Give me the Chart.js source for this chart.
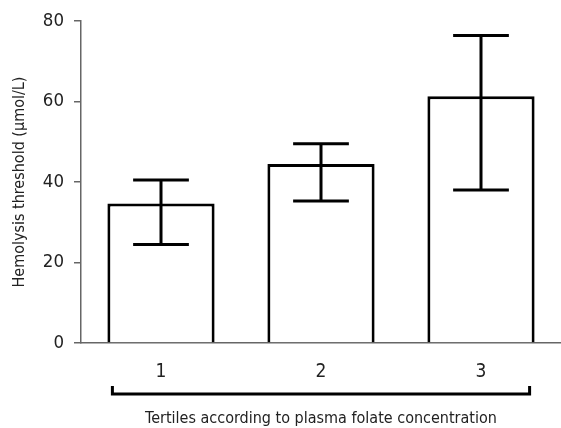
<!DOCTYPE html>
<html>
<head>
<meta charset="utf-8">
<script src="https://cdn.jsdelivr.net/npm/chart.js@4.4.1/dist/chart.umd.min.js"></script>
<style>
  html, body { margin: 0; padding: 0; background: #fff; }
  #wrap { width: 561px; height: 428px; }
</style>
</head>
<body>
<div id="wrap"><canvas id="barchart"></canvas></div>
<script>
// hemolysis threshold by folate tertile
var tertiles = ["1", "2", "3"];
var means = [34.7, 44.5, 61.3];
var errHigh = [40.5, 49.5, 76.4];
var errLow = [24.5, 35.3, 38.0];
var yTicks = [0, 20, 40, 60, 80];

var fontFam = "'DejaVu Sans Condensed', 'DejaVu Sans', sans-serif";

// whiskers on top of the bars
var errorBars = {
    id: "errorBars",
    afterDatasetsDraw(chart) {
        const ctx = chart.ctx;
        const y = chart.scales.y;
        const meta = chart.getDatasetMeta(0);
        ctx.save();
        ctx.strokeStyle = "#000";
        ctx.lineWidth = 3;
        meta.data.forEach(function(bar, i) {
            const half = bar.width * 0.26;
            const top = y.getPixelForValue(errHigh[i]);
            const bot = y.getPixelForValue(errLow[i]);
            ctx.beginPath();
            ctx.moveTo(bar.x, top);
            ctx.lineTo(bar.x, bot);
            ctx.moveTo(bar.x - half, top);
            ctx.lineTo(bar.x + half, top);
            ctx.moveTo(bar.x - half, bot);
            ctx.lineTo(bar.x + half, bot);
            ctx.stroke();
        });
        ctx.restore();
    }
};

// bracket under the tick labels
var bracket = {
    id: "bracket",
    afterDraw(chart) {
        const ctx = chart.ctx;
        const meta = chart.getDatasetMeta(0);
        const first = meta.data[0];
        const last = meta.data[meta.data.length - 1];
        const x1 = first.x - first.width / 2 + 5;
        const x2 = last.x + last.width / 2 - 5;
        const yb = chart.chartArea.bottom + 51;
        ctx.save();
        ctx.strokeStyle = "#000";
        ctx.lineWidth = 3;
        ctx.beginPath();
        ctx.moveTo(x1, yb - 8);
        ctx.lineTo(x1, yb);
        ctx.lineTo(x2, yb);
        ctx.lineTo(x2, yb - 8);
        ctx.stroke();
        ctx.restore();
    }
};

const ctx = document.getElementById("barchart").getContext("2d");

const config = {
    type: "bar",
    data: {
        labels: tertiles,
        datasets: [
            {
                data: means,
                backgroundColor: "#fff",
                borderColor: "#000",
                borderWidth: 3,
                borderSkipped: "start",
                categoryPercentage: 1,
                barPercentage: 0.67,
            },
        ],
    },
    options: {
        responsive: true,
        maintainAspectRatio: false,
        animation: false,
        layout: { padding: { top: 15, right: 0, left: 0, bottom: 0 } },
        scales: {
            x: {
                grid: { display: false },
                border: { display: true, color: "#666", width: 1.5 },
                ticks: {
                    padding: 10,
                    color: "#222",
                    font: { family: fontFam, size: 19 },
                },
                title: {
                    display: true,
                    text: "Tertiles according to plasma folate concentration",
                    color: "#222",
                    font: { family: fontFam, size: 16 },
                    padding: { top: 0, bottom: 0 },
                },
                afterFit: function(scale) { scale.height = 85; },
            },
            y: {
                min: 0,
                max: 80,
                afterBuildTicks: function(scale) {
                    scale.ticks = yTicks.map(v => ({ value: v }));
                },
                grid: {
                    drawOnChartArea: false,
                    drawTicks: true,
                    tickLength: 7,
                    color: "#666",
                    lineWidth: 1.5,
                },
                border: { display: true, color: "#666", width: 1.5 },
                ticks: {
                    padding: 10,
                    color: "#222",
                    font: { family: fontFam, size: 18.5 },
                },
                title: {
                    display: true,
                    text: "Hemolysis threshold (μmol/L)",
                    color: "#222",
                    font: { family: fontFam, size: 16 },
                    padding: { top: 10, bottom: 0 },
                },
                afterFit: function(scale) { scale.width = 81; },
            }
        },
        plugins: {
            legend: { display: false },
            tooltip: { enabled: false }
        }
    },
    plugins: [errorBars, bracket]
};

var barChart = new Chart(ctx, config);
</script>
</body>
</html>
